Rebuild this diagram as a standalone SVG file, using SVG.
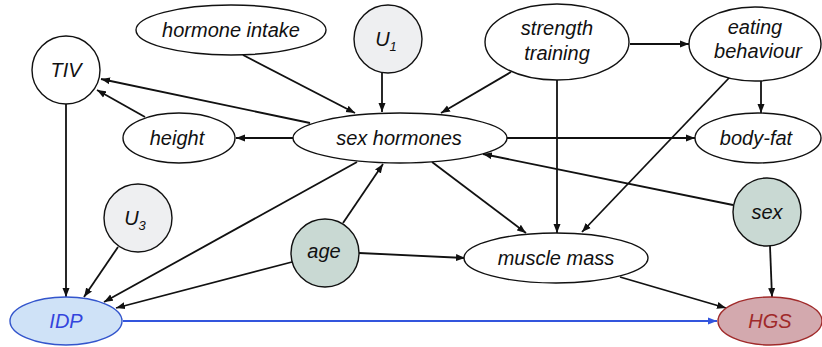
<svg xmlns="http://www.w3.org/2000/svg" width="822" height="347" viewBox="0 0 822 347">
<defs>
<marker id="ah" markerUnits="userSpaceOnUse" markerWidth="10" markerHeight="8" refX="9" refY="4" orient="auto">
<path d="M0,0.5 L9,4 L0,7.5 Z" fill="#111"/>
</marker>
<marker id="ahb" markerUnits="userSpaceOnUse" markerWidth="10" markerHeight="8" refX="9" refY="4" orient="auto">
<path d="M0,0.5 L9,4 L0,7.5 Z" fill="#3355dd"/>
</marker>
</defs>
<style>
.n{fill:#fff;stroke:#111;stroke-width:1.4}
.u{fill:#eeeff1}
.g{fill:#c9d9d3}
.t{font-family:"Liberation Sans",Arial,sans-serif;font-style:italic;font-size:20px;fill:#111;text-anchor:middle}
.s{font-size:13px}
.e{fill:none;stroke:#111;stroke-width:1.8;marker-end:url(#ah)}
</style>
<g id="connectors">
<line class="e" x1="243" y1="55" x2="355" y2="113"/>
<line class="e" x1="382" y1="73" x2="382" y2="112"/>
<line class="e" x1="511" y1="72" x2="441" y2="113"/>
<line class="e" x1="630" y1="44" x2="689" y2="44"/>
<line class="e" x1="557" y1="80" x2="557" y2="233"/>
<line class="e" x1="761" y1="81" x2="761" y2="113"/>
<line class="e" x1="729" y1="78" x2="582" y2="232"/>
<line class="e" x1="507" y1="138" x2="695" y2="138"/>
<line class="e" x1="293" y1="138" x2="236" y2="138"/>
<line class="e" x1="310" y1="123" x2="101" y2="79"/>
<line class="e" x1="145" y1="117" x2="97" y2="90"/>
<line class="e" x1="66" y1="104" x2="66" y2="297"/>
<line class="e" x1="118" y1="247" x2="84" y2="297"/>
<line class="e" x1="357" y1="162" x2="104" y2="302"/>
<line class="e" x1="292" y1="262" x2="116" y2="308"/>
<line class="e" x1="343" y1="223" x2="383" y2="164"/>
<line class="e" x1="432" y1="162" x2="526" y2="233"/>
<line class="e" x1="359" y1="253" x2="465" y2="258"/>
<line class="e" x1="733" y1="205" x2="483" y2="154"/>
<line class="e" x1="770" y1="246" x2="772" y2="297"/>
<line class="e" x1="620" y1="277" x2="726" y2="308"/>
<line x1="123" y1="321" x2="717" y2="321" stroke="#3355dd" stroke-width="1.8" marker-end="url(#ahb)"/>
</g>
<g id="TIV"><circle class="n" cx="66" cy="70" r="34"/><text class="t" x="66" y="77">TIV</text></g>
<g id="hormone_intake"><ellipse class="n" cx="231" cy="30" rx="95" ry="25"/><text class="t" x="231" y="37">hormone intake</text></g>
<g id="U1"><circle class="n u" cx="388" cy="39" r="34"/><text class="t" x="386" y="46">U<tspan class="s" dy="5">1</tspan></text></g>
<g id="strength_training"><ellipse class="n" cx="557" cy="42" rx="72" ry="38"/><text class="t" x="557" y="35">strength</text><text class="t" x="557" y="60">training</text></g>
<g id="eating_behaviour"><ellipse class="n" cx="755" cy="44" rx="66" ry="37"/><text class="t" x="755" y="34">eating</text><text class="t" x="758" y="58">behaviour</text></g>
<g id="height"><ellipse class="n" cx="179" cy="138" rx="56" ry="25"/><text class="t" x="177" y="145">height</text></g>
<g id="sex_hormones"><ellipse class="n" cx="400" cy="138" rx="107" ry="25"/><text class="t" x="399" y="145">sex hormones</text></g>
<g id="body_fat"><ellipse class="n" cx="758" cy="138" rx="63" ry="25"/><text class="t" x="756" y="145">body-fat</text></g>
<g id="U3"><circle class="n u" cx="138" cy="218" r="34"/><text class="t" x="135" y="225">U<tspan class="s" dy="5">3</tspan></text></g>
<g id="age"><circle class="n g" cx="325" cy="253" r="34"/><text class="t" x="324" y="258">age</text></g>
<g id="muscle_mass"><ellipse class="n" cx="556" cy="258" rx="92" ry="25"/><text class="t" x="556" y="265">muscle mass</text></g>
<g id="sex"><circle class="n g" cx="767" cy="212" r="34"/><text class="t" x="767" y="219">sex</text></g>
<g id="IDP"><ellipse cx="66" cy="321" rx="56" ry="24" fill="#cfe2f7" stroke="#3355cc" stroke-width="1.4"/><text class="t" x="66" y="328" style="fill:#3344dd">IDP</text></g>
<g id="HGS"><ellipse cx="770" cy="321" rx="52" ry="24" fill="#d3a9ae" stroke="#a02a2a" stroke-width="1.4"/><text class="t" x="770" y="328" style="fill:#a02a2a">HGS</text></g>
</svg>
